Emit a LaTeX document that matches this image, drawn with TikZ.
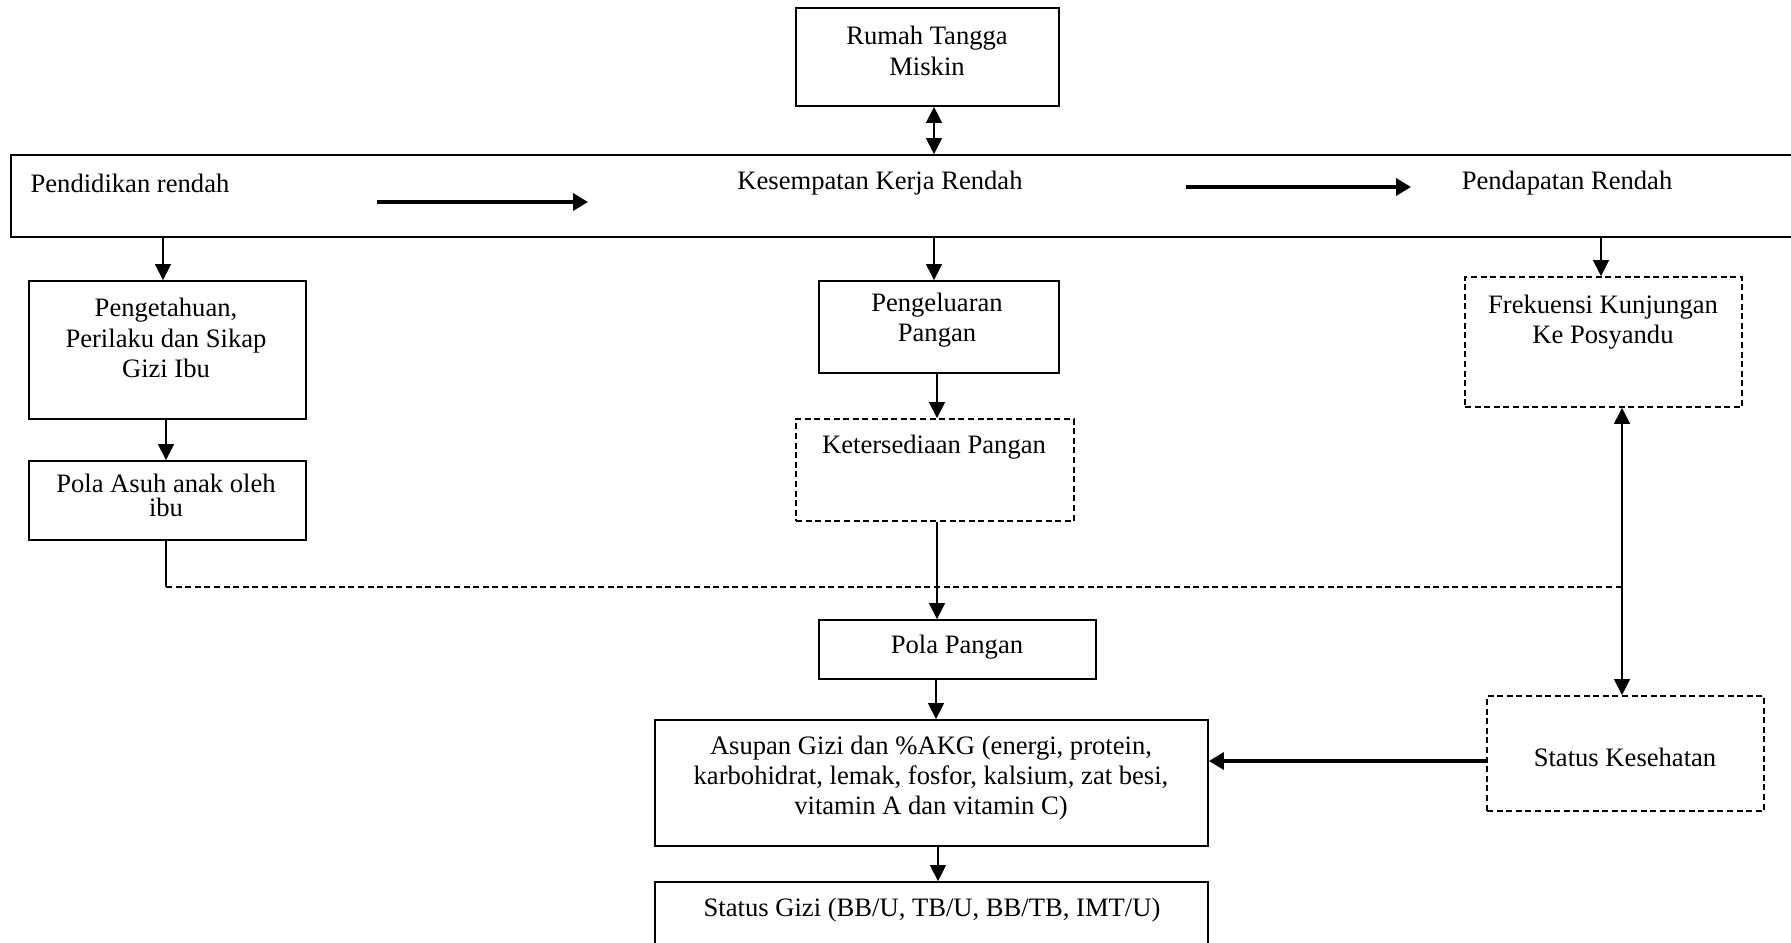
\documentclass[tikz,border=0pt]{standalone}
\usepackage{fontspec}
\setmainfont{Liberation Serif}
\usetikzlibrary{arrows.meta,fit}
\begin{document}
\begin{tikzpicture}[x=0.5pt, y=-0.5pt,
  box/.style = {draw, line width=0.9pt, inner sep=0pt},
  dbox/.style = {box, dash pattern=on 3pt off 1.8pt},
  txt/.style = {align=center, inner sep=0pt, font=\fontsize{13.3}{15.2}\selectfont},
  arr/.style = {line width=0.7pt, -{Triangle[length=8pt,width=8pt]}},
  darr/.style = {line width=0.7pt, {Triangle[length=8pt,width=8pt]}-{Triangle[length=8pt,width=8pt]}},
  thickarr/.style = {line width=1.7pt, -{Triangle[length=7.5pt,width=8.5pt]}}]
\useasboundingbox (0,0) rectangle (1791,942);
\clip (0,0) rectangle (1791,942);
% boxes
\node[box, fit={(796,8) (1059,106)}] (rumah) {};
\node[box, fit={(11,155) (1830,237)}] (kerja) {};
\node[box, fit={(29,281) (306,419)}] (pengetahuan) {};
\node[box, fit={(819,281) (1059,373)}] (pengeluaran) {};
\node[dbox, fit={(1465,277) (1742,407)}] (frekuensi) {};
\node[box, fit={(29,461) (306,540)}] (polaasuh) {};
\node[dbox, fit={(796,419) (1074,521)}] (sedia) {};
\node[box, fit={(819,620) (1096,679)}] (polapangan) {};
\node[box, fit={(655,720) (1208,846)}] (asupan) {};
\node[box, fit={(655,882) (1208,990)}] (statusgizi) {};
\node[dbox, fit={(1487,696) (1764,811)}] (kesehatan) {};
% texts
\node[txt] (rumahtxt) at (927,51) {Rumah Tangga\\Miskin};
\node[txt] (pendtxt) at (130,183) {Pendidikan rendah};
\node[txt] (kerjatxt) at (880,183) {Kesempatan Kerja Rendah};
\node[txt] (dapattxt) at (1567,183) {Pendapatan Rendah};
\node[txt] (tahutxt) at (166,338) {Pengetahuan,\\Perilaku dan Sikap\\Gizi Ibu};
\node[txt] (keluartxt) at (937,320) {Pengeluaran\\Pangan};
\node[txt] (frektxt) at (1603,322) {Frekuensi Kunjungan\\Ke Posyandu};
\node[txt, font=\fontsize{13.3}{12}\selectfont] (asuhtxt) at (166,495) {Pola Asuh anak oleh\\ibu};
\node[txt] (sediatxt) at (934,447) {Ketersediaan Pangan};
\node[txt] (polatxt) at (957,647) {Pola Pangan};
\node[txt] (asupantxt) at (931,778) {Asupan Gizi dan \%AKG (energi, protein,\\karbohidrat, lemak, fosfor, kalsium, zat besi,\\vitamin A dan vitamin C)};
\node[txt] (gizitxt) at (932,910) {Status Gizi (BB/U, TB/U, BB/TB, IMT/U)};
\node[txt] (sehattxt) at (1625,757) {Status Kesehatan};
% arrows inside the long box
\coordinate (a1s) at (377,202);
\coordinate (a1e) at (588,202);
\coordinate (a2s) at (1186,187);
\coordinate (a2e) at (1411,187);
\draw[thickarr] (a1s) -- (a1e);
\draw[thickarr] (a2s) -- (a2e);
% connectors
\draw[darr] (rumah.south -| 934,0) -- (kerja.north -| 934,0);
\draw[arr] (kerja.south -| 163,0) -- (pengetahuan.north -| 163,0);
\draw[arr] (kerja.south -| 934,0) -- (pengeluaran.north -| 934,0);
\draw[arr] (kerja.south -| 1601,0) -- (frekuensi.north -| 1601,0);
\draw[arr] (pengetahuan.south -| 166,0) -- (polaasuh.north -| 166,0);
\draw[arr] (pengeluaran.south -| 937,0) -- (sedia.north -| 937,0);
\draw[arr] (sedia.south -| 937,0) -- (polapangan.north -| 937,0);
\draw[arr] (polapangan.south -| 936,0) -- (asupan.north -| 936,0);
\draw[arr] (asupan.south -| 938,0) -- (statusgizi.north -| 938,0);
\draw[thickarr] (kesehatan.west |- 0,761) -- (asupan.east |- 0,761);
\draw[darr] (frekuensi.south -| 1622,0) -- (kesehatan.north -| 1622,0);
\coordinate (bend) at (166,587);
\coordinate (join) at (1622,587);
\draw[line width=0.6pt] (polaasuh.south -| bend) -- (bend);
\draw[line width=0.9pt, dash pattern=on 3pt off 1.8pt] (bend) -- (join);
\end{tikzpicture}
\end{document}
